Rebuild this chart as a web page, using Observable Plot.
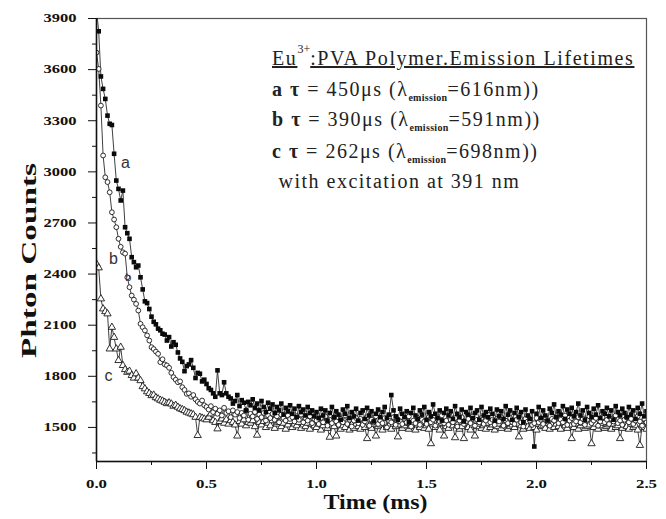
<!DOCTYPE html>
<html><head><meta charset="utf-8">
<script src="https://cdn.jsdelivr.net/npm/d3@7"></script>
<script src="https://cdn.jsdelivr.net/npm/@observablehq/plot@0.6"></script>
<style>
body{margin:0;background:#fff;}
#chart svg{display:block;}
</style></head><body><div id="chart"></div>
<script>
// sampling interval of the decay curves (ms)
const timeStep = 0.01;

// a: filled squares, lambda_em = 616 nm
const seriesA = [
3950,3825,3560,3487,3428,3330,3282,3275,3106,2949,
2900,2832,2890,2675,2640,2607,2499,2470,2440,2450,
2381,2310,2240,2230,2195,2150,2120,2105,2080,2070,
2050,2045,2010,2030,1975,2000,1985,1940,1905,1885,
1830,1860,1870,1895,1850,1790,1820,1815,1770,1780,
1755,1730,1720,1700,1680,1835,1700,1690,1765,1700,
1680,
1670,1640,1655,1690,1625,1660,1645,1600,1650,1630,
1665,1615,1640,1600,1655,1620,1590,1645,1610,1635,
1585,1620,1600,1640,1575,1615,1595,1630,1580,1610,
1560,1625,1590,1605,1570,1620,1585,1600,1565,
1590,1555,1610,1570,1600,1540,1585,1620,1560,1595,
1575,1545,1605,1580,1625,1555,1590,1565,1610,1540,
1585,1600,1550,1615,1570,1595,1535,1580,1605,1560,
1590,1620,1555,1575,1690,1600,1565,1545,1610,1580,
1560,1595,1530,1585,1615,1570,1550,1600,1575,1620,
1545,1590,1565,1635,1580,1555,1600,1540,1585,1610,
1570,1595,1550,1625,1580,1560,1605,1535,1590,1575,
1615,1555,1585,1600,1545,1620,1570,1590,1560,1610,
1580,1540,1605,1565,1595,1550,1625,1575,1600,1545,
1585,1615,1560,1590,1530,1605,1570,1550,1595,1388,
1580,1620,1555,1600,1570,1540,1610,1585,1635,1560,
1595,1575,1625,1550,1605,1580,1615,1565,1590,1640,
1570,1600,1545,1620,1585,1560,1610,1575,1630,1555,
1595,1580,1615,1565,1600,1545,1625,1590,1570,1610,
1585,1560,1620,1575,1600,1550,1615,1580,1640,1565,1595
];

// b: open circles, lambda_em = 591 nm
const seriesB = [
3700,3604,3389,3096,2968,2940,2880,2763,2720,2675,
2607,2560,2528,2520,2381,2323,2274,2250,2225,2186,
2108,2088,2069,2040,2010,1971,1960,1945,1932,1883,
1900,1870,1864,1850,1820,1795,1780,1765,1770,1736,
1720,1697,1700,1680,1690,1665,1650,1640,1658,1630,
1620,
1605,1625,1590,1610,1580,1600,1570,1615,1585,1595,
1560,1600,1575,1590,1555,1585,1570,1600,1545,1580,
1565,1590,1550,1575,1560,1585,1540,1570,1555,1580,
1545,1565,1530,1575,1555,1540,1570,1550,1560,1535,
1565,1545,1575,1530,1555,1540,1565,1525,1550,
1540,1520,1555,1530,1565,1510,1545,1525,1560,1535,
1515,1550,1530,1570,1520,1545,1505,1540,1555,1525,
1550,1515,1535,1560,1510,1545,1530,1565,1520,1540,
1525,1555,1500,1540,1530,1560,1515,1545,1535,1520,
1550,1530,1565,1505,1540,1525,1555,1515,1545,1535,
1520,1560,1530,1545,1510,1550,1535,1570,1525,1540,
1515,1545,1530,1555,1505,1540,1560,1520,1535,1550,
1525,1565,1510,1545,1530,1555,1520,1540,1575,1530,
1545,1515,1550,1535,1560,1510,1540,1525,1555,1530,
1520,1545,1565,1530,1505,1550,1535,1540,1515,1525,
1555,1530,1545,1520,1560,1535,1510,1550,1540,1565,
1525,1545,1530,1570,1515,1540,1555,1520,1535,1560,
1530,1550,1515,1545,1565,1525,1540,1555,1510,1535,
1560,1530,1545,1520,1550,1535,1570,1525,1540,1515,
1545,1560,1530,1550,1520,1540,1565,1535,1510,1550,1530
];

// c: open triangles, lambda_em = 698 nm
const seriesC = [
2460,2437,2255,2196,2180,2167,1961,2088,2029,1961,
1893,1971,1864,1840,1824,1830,1805,1790,1815,1790,
1775,1740,1727,1710,1700,1687,1690,1675,1668,1660,
1655,1648,1640,1645,1638,1625,1630,1619,1610,1605,
1599,1590,1585,1580,1575,1560,1453,1560,1555,1550,
1545,1560,1580,1540,1530,1492,
1535,1550,1525,1545,1520,1540,1530,1515,1450,1535,
1520,1545,1510,1530,1525,1540,1505,1455,1530,1515,
1535,1500,1525,1510,1540,1495,1520,1530,1505,1525,
1490,1515,1535,1500,1520,1510,1530,1495,1515,1505,
1525,1490,1520,1510,
1500,1520,1485,1510,1530,1495,1443,1515,1505,1450,
1525,1490,1510,1500,1530,1485,1515,1495,1520,1505,
1490,1525,1500,1435,1510,1495,1520,1450,1505,1515,
1485,1525,1500,1510,1490,1520,1505,1445,1515,1495,
1510,1525,1490,1505,1520,1485,1515,1500,1530,1495,
1510,1490,1405,1520,1500,1515,1485,1525,1450,1505,
1495,1520,1510,1440,1515,1490,1505,1435,1525,1500,
1485,1515,1450,1505,1520,1495,1510,1490,1525,1500,
1515,1485,1505,1520,1495,1510,1530,1490,1505,1515,
1500,1520,1445,1510,1490,1525,1505,1495,1515,1500,
1485,1520,1505,1510,1495,1525,1490,1515,1500,1520,
1505,1490,1525,1510,1495,1515,1435,1500,1520,1490,
1510,1525,1495,1505,1515,1405,1500,1520,1490,1510,
1525,1495,1505,1515,1490,1520,1500,1510,1435,1495,
1515,1505,1490,1520,1500,1510,1485,1395,1515,1500,1490
];

const yMajor = [1500,1800,2100,2400,2700,3000,3300,3600,3900];
const yMinor = [1350,1650,1950,2250,2550,2850,3150,3450,3750];
const xMajor = [0,0.5,1.0,1.5,2.0,2.5];
const xMinor = [0.25,0.75,1.25,1.75,2.25];

// curve letters next to the decays
const bigLabelText = ["a","b","c"];
const bigLabelT = [0.132,0.077,0.055];
const bigLabelV = [3055,2491,1805];
const smallLabelText = ["b"];
const smallLabelT = [0.145];
const smallLabelV = [2380];

const xTitle = "Time (ms)";
const yTitle = "Phton Counts";

const noteLines = [
 [{s:"Eu",u:1},{s:"3+",sup:1},{s:":PVA Polymer.Emission Lifetimes",u:1}],
 [{s:"a",b:1},{s:" "},{s:"τ",b:1},{s:" = 450μs (λ"},{s:"emission",sub:1},{s:"=616nm))"}],
 [{s:"b",b:1},{s:" "},{s:"τ",b:1},{s:" = 390μs (λ"},{s:"emission",sub:1},{s:"=591nm))"}],
 [{s:"c",b:1},{s:" "},{s:"τ",b:1},{s:" = 262μs (λ"},{s:"emission",sub:1},{s:"=698nm))"}],
 [{s:" with excitation at 391 nm"}]
];

const toRows = (vals) => vals.map((v,i)=>({t:+(i*timeStep).toFixed(2), v}));
const rowsA = toRows(seriesA), rowsB = toRows(seriesB), rowsC = toRows(seriesC);

const lineStyle = {x:"t", y:"v", stroke:"#2a2a2a", strokeWidth:0.9, clip:true};

const plot = Plot.plot({
  width:666, height:519,
  marginLeft:96, marginRight:20, marginTop:18, marginBottom:58,
  style:{fontFamily:"'Liberation Serif','Times New Roman',serif", background:"#fff", color:"#111"},
  x:{domain:[0,2.5], label:null},
  y:{domain:[1300,3900], label:null},
  marks:[
    Plot.frame({stroke:"#555", strokeWidth:1.2}),
    Plot.axisY({ticks:yMinor, tickSize:4, tickFormat:()=>"", label:null, stroke:"#111"}),
    Plot.axisY({ticks:yMajor, tickSize:8, tickPadding:12, tickFormat:d=>String(d), label:null, fontSize:12, fontWeight:"bold", stroke:"#111"}),
    Plot.axisX({ticks:xMinor, tickSize:4, tickFormat:()=>"", label:null, stroke:"#111"}),
    Plot.axisX({ticks:xMajor, tickSize:8, tickPadding:9, tickFormat:d=>d.toFixed(1), label:null, fontSize:13, fontWeight:"bold", stroke:"#111"}),
    Plot.line(rowsC, lineStyle),
    Plot.line(rowsB, lineStyle),
    Plot.line(rowsA, lineStyle),
    Plot.dot(rowsC, {x:"t", y:"v", symbol:"triangle", r:2.7, fill:"white", stroke:"#1a1a1a", strokeWidth:0.9, clip:true}),
    Plot.dot(rowsB, {x:"t", y:"v", symbol:"circle", r:2.4, fill:"white", stroke:"#1a1a1a", strokeWidth:0.9, clip:true}),
    Plot.dot(rowsA, {x:"t", y:"v", symbol:"square", r:2.6, fill:"#0a0a0a", stroke:"none", clip:true}),
    Plot.ruleX([0], {stroke:"#111", strokeWidth:1.5}),
    Plot.ruleY([1300], {stroke:"#111", strokeWidth:1.5}),
    Plot.text(bigLabelText, {x:(d,i)=>bigLabelT[i], y:(d,i)=>bigLabelV[i], text:d=>d, fontSize:16, fontFamily:"'Liberation Sans',Arial,sans-serif", fill:"#333"}),
    Plot.text(smallLabelText, {x:(d,i)=>smallLabelT[i], y:(d,i)=>smallLabelV[i], text:d=>d, fontSize:11, fontFamily:"'Liberation Sans',Arial,sans-serif", fill:"#333"}),
    Plot.text([xTitle], {frameAnchor:"bottom", dy:47, dx:4, text:d=>d, fontSize:22, fontWeight:"bold", className:"xtitle"}),
    Plot.text([yTitle], {frameAnchor:"left", dx:-68, dy:118, rotate:-90, text:d=>d, fontSize:22, fontWeight:"bold", className:"ytitle"})
  ]
});

const svg = d3.select(plot);
svg.selectAll('g[aria-label="y-axis tick label"] text').filter(function(){return this.textContent.length>0;})
  .attr("textLength",33).attr("lengthAdjust","spacingAndGlyphs");
svg.selectAll('g[aria-label="x-axis tick label"] text').filter(function(){return this.textContent.length>0;})
  .attr("textLength",21).attr("lengthAdjust","spacingAndGlyphs");
svg.selectAll('.xtitle text').attr("textLength",104).attr("lengthAdjust","spacingAndGlyphs");
svg.selectAll('.ytitle text').attr("textLength",195).attr("lengthAdjust","spacingAndGlyphs");

// annotation block, anchored through the plot scales
const sx = plot.scale("x"), sy = plot.scale("y");
const noteX = sx.apply(0.8);
const noteY0 = sy.apply(3624);
const noteGap = 31;
const g = svg.append("g").attr("font-family","'Liberation Serif','Times New Roman',serif")
  .attr("fill","#222").attr("text-anchor","start");
noteLines.forEach((segs, li) => {
  const txt = g.append("text").attr("x", noteX).attr("y", noteY0 + li*noteGap + (li===2?-1:0) + (li===4?-1:0))
    .attr("font-size", 20).attr("letter-spacing", li===0 ? 1.6 : 1.5).attr("text-anchor","start");
  let shift = 0;
  segs.forEach(seg => {
    const ts = txt.append("tspan").text(seg.s);
    let dy = 0;
    if (seg.sup) { dy = -12 - shift; shift = -12; ts.attr("font-size", 12).attr("letter-spacing", 0); }
    else if (seg.sub) { dy = 5 - shift; shift = 5; ts.attr("font-size", 10).attr("font-weight","bold").attr("letter-spacing", 0.3); }
    else { dy = -shift; shift = 0; }
    if (dy) ts.attr("dy", dy);
    if (seg.b) ts.attr("font-weight","bold");
    if (seg.u) ts.attr("text-decoration","underline");
  });
});

document.getElementById("chart").appendChild(plot);
</script></body></html>
